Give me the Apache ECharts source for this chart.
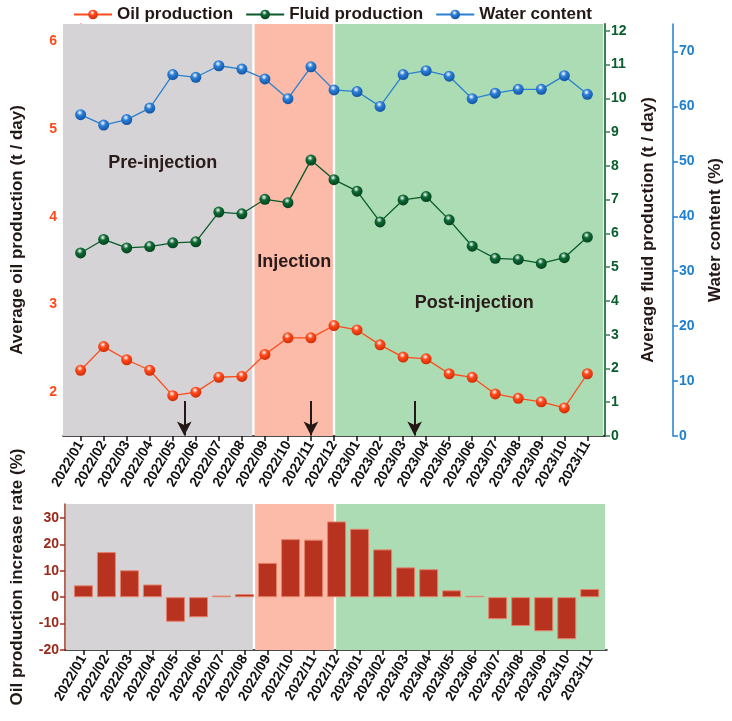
<!DOCTYPE html>
<html>
<head>
<meta charset="utf-8">
<script src="https://cdn.jsdelivr.net/npm/echarts@6/dist/echarts.min.js"></script>
<style>html,body{margin:0;padding:0;background:#fff}#c{width:732px;height:721px}</style>
</head>
<body>
<div id="c"></div>
<script>
const months = ['2022/01','2022/02','2022/03','2022/04','2022/05','2022/06','2022/07','2022/08','2022/09','2022/10','2022/11','2022/12',
  '2023/01','2023/02','2023/03','2023/04','2023/05','2023/06','2023/07','2023/08','2023/09','2023/10','2023/11'];
const oilProduction = [2.25,2.52,2.37,2.25,1.96,2.00,2.17,2.18,2.43,2.62,2.62,2.76,2.71,2.54,2.40,2.38,2.21,2.17,1.98,1.93,1.89,1.82,2.21];
const fluidProduction = [5.42,5.82,5.57,5.61,5.72,5.75,6.63,6.58,7.01,6.91,8.17,7.59,7.25,6.34,6.99,7.09,6.40,5.62,5.26,5.23,5.11,5.28,5.89];
const waterContent = [58.5,56.6,57.6,59.7,65.8,65.3,67.4,66.8,65.0,61.4,67.2,63.0,62.7,60.0,65.8,66.5,65.5,61.4,62.4,63.1,63.1,65.6,62.2];
const increaseRate = [4.5,17.1,10.2,4.8,-9.3,-7.6,0.6,1.2,13.0,22.0,21.8,28.7,25.9,18.1,11.3,10.6,2.6,0.5,-8.3,-10.9,-12.9,-15.9,3.1];
const oilTicks = [2,3,4,5,6];
const fluidTicks = [0,1,2,3,4,5,6,7,8,9,10,11,12];
const waterTicks = [0,10,20,30,40,50,60,70];
const rateTicks = [-20,-10,0,10,20,30];
const phaseLabels = ['Pre-injection','Injection','Post-injection'];
const arrowMonths = [4.5, 10, 14.5];

const FONT = 'Liberation Sans, Arial, sans-serif';
const idx = months.map((m,i)=>i);
function sphere(base, dark){
  return {type:'radial', x:0.42, y:0.32, r:0.75, colorStops:[
    {offset:0, color:'#ffffff'},{offset:0.35, color:base},{offset:1, color:dark}]};
}
const xLabel = {customValues: idx, formatter: v => months[Math.round(v)], rotate: 60, fontSize: 14, fontWeight: 'bold', color: '#111', fontFamily: FONT, margin: 6};
const xTick = {customValues: idx, length: 5, lineStyle:{color:'#111', width:1.5}};
function yAx(o){
  return Object.assign({type:'value', splitLine:{show:false}, nameLocation:'middle', nameRotate:90,
    nameTextStyle:{fontSize:17, fontWeight:'bold', color:'#231815', fontFamily:FONT}}, o);
}
function lab(vals, color){ return {customValues: vals, color, fontSize: 14, fontWeight: 'bold', fontFamily: FONT, margin: 6}; }
function tick(vals, color){ return {show:true, customValues: vals, length: 5, lineStyle:{color, width:1.5}}; }

const GRAY = '#d5d3d5', PINK = '#fcbaa8', GREEN = '#acdcb4';
function bgAreas(a){
  return [
    [{xAxis:a[0], itemStyle:{color:GRAY, opacity:1}}, {xAxis:a[1]}],
    [{xAxis:a[2], itemStyle:{color:PINK, opacity:1}}, {xAxis:a[3]}],
    [{xAxis:a[4], itemStyle:{color:GREEN, opacity:1}}, {xAxis:a[5]}]
  ];
}

const option = {
  animation: false,
  textStyle: {fontFamily: FONT},
  legend: {
    top: 1, left: 68, itemWidth: 38, itemHeight: 12, itemGap: 12,
    textStyle: {fontSize: 17, fontWeight: 'bold', color: '#231815', fontFamily: FONT},
    data: ['Oil production','Fluid production','Water content']
  },
  grid: [
    {left: 63, right: 125, top: 24, bottom: 285},
    {left: 65, right: 125, top: 504, bottom: 71}
  ],
  xAxis: [
    {type:'value', gridIndex:0, min:-0.766, max:22.766, splitLine:{show:false},
     axisLine:{lineStyle:{color:'#111', width:1.5}}, axisTick:xTick, axisLabel:xLabel},
    {type:'value', gridIndex:1, min:-0.8, max:22.75, splitLine:{show:false},
     axisLine:{onZero:false, lineStyle:{color:'#111', width:1.5}}, axisTick:xTick, axisLabel:xLabel}
  ],
  yAxis: [
    yAx({gridIndex:0, position:'left', min:1.5, max:6.2, name:'Average oil production (t / day)', nameGap:37,
      axisLine:{show:true, lineStyle:{color:'#ff5a30', width:1.5}}, axisTick:tick(oilTicks,'#ff5a30'), axisLabel:lab(oilTicks,'#ff4a1a')}),
    yAx({gridIndex:0, position:'right', min:0, max:12.2, name:'Average fluid production (t / day)', nameGap:35,
      axisLine:{show:true, lineStyle:{color:'#3d7d55', width:2}}, axisTick:tick(fluidTicks,'#3d7d55'), axisLabel:lab(fluidTicks,'#0a5e2e')}),
    yAx({gridIndex:0, position:'right', offset:68, min:0, max:75, name:'Water content (%)', nameGap:34,
      axisLine:{show:true, lineStyle:{color:'#1c7fd0', width:1.5}}, axisTick:tick(waterTicks,'#1c7fd0'), axisLabel:lab(waterTicks,'#1f80d0')}),
    yAx({gridIndex:1, position:'left', min:-20, max:35.3, name:'Oil production increase rate (%)', nameGap:39,
      axisLine:{show:true, onZero:false, lineStyle:{color:'#a0301f', width:1.5}}, axisTick:tick(rateTicks,'#a0301f'), axisLabel:lab(rateTicks,'#9b2a1a')})
  ],
  series: [
    {type:'line', xAxisIndex:0, yAxisIndex:0, data:[], z:0, silent:true,
     markArea:{silent:true, data:bgAreas([-0.766,7.45,7.55,10.95,11.05,22.68])}},
    {type:'line', xAxisIndex:1, yAxisIndex:3, data:[], z:0, silent:true,
     markArea:{silent:true, data:bgAreas([-0.76,7.36,7.46,10.88,10.98,22.67])}},
    {name:'Oil production', type:'line', xAxisIndex:0, yAxisIndex:0, z:5,
     data: idx.map(i=>[i, oilProduction[i]]),
     symbol:'circle', symbolSize:11, lineStyle:{color:'#ff4a1c', width:1.3},
     itemStyle:{color: sphere('#ff4a1c','#c82800')},
     markLine:{silent:true, symbol:['none','arrow'], symbolSize:[11,14], label:{show:false},
       lineStyle:{color:'#231815', width:2, type:'solid'},
       data: arrowMonths.map(m=>[{coord:[m,1.9]},{coord:[m,1.505]}])},
     markPoint:{silent:true, symbol:'circle', symbolSize:0,
       label:{show:true, position:'inside', formatter:'{b}', fontSize:18, fontWeight:'bold', color:'#2a1c1a', fontFamily:FONT},
       data:[{name:phaseLabels[0], coord:[3.56,4.61]},{name:phaseLabels[1], coord:[9.27,3.49]},{name:phaseLabels[2], coord:[17.09,3.02]}]}},
    {name:'Fluid production', type:'line', xAxisIndex:0, yAxisIndex:1, z:5,
     data: idx.map(i=>[i, fluidProduction[i]]),
     symbol:'circle', symbolSize:11, lineStyle:{color:'#0b5a2c', width:1.3},
     itemStyle:{color: sphere('#0d6a35','#033a18')}},
    {name:'Water content', type:'line', xAxisIndex:0, yAxisIndex:2, z:5,
     data: idx.map(i=>[i, waterContent[i]]),
     symbol:'circle', symbolSize:11, lineStyle:{color:'#2a80d0', width:1.3},
     itemStyle:{color: sphere('#2c7fd6','#0c4c9c')}},
    {name:'Increase rate', type:'bar', xAxisIndex:1, yAxisIndex:3, z:5, barWidth:19,
     data: idx.map(i=>[i, increaseRate[i]]),
     itemStyle:{color:'#b83220', borderColor:'#e4826c', borderWidth:1}}
  ]
};
echarts.init(document.getElementById('c')).setOption(option);
</script>
</body>
</html>
